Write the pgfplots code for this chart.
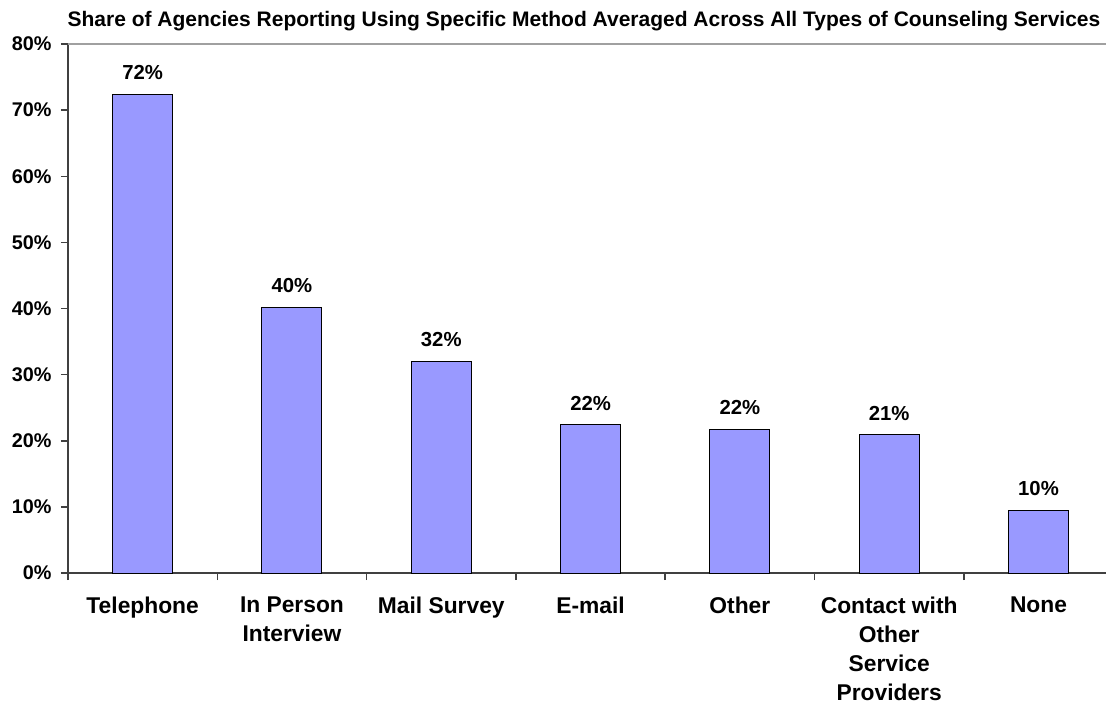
\documentclass[border=0pt]{standalone}
\usepackage{fontspec}
\setmainfont{Liberation Sans}
\usepackage{pgfplots}
\pgfplotsset{compat=1.18}
\definecolor{barfill}{HTML}{9999FF}
\definecolor{axisgray}{HTML}{404040}
\definecolor{topgray}{HTML}{A0A0A0}
\pgfplotstableread{
x y label
0 72.4 72\%
1 40.2 40\%
2 32.0 32\%
3 22.4 22\%
4 21.7 22\%
5 20.9 21\%
6 9.5 10\%
}\datatable
\begin{document}
\begin{tikzpicture}
\useasboundingbox (-68pt,-131pt) rectangle (1038pt,573pt);
\begin{axis}[
  at={(0pt,0pt)}, anchor=south west,
  scale only axis, width=1038pt, height=529pt,
  xmin=-0.5, xmax=6.452, ymin=0, ymax=80,
  axis x line*=bottom, axis y line*=left,
  axis line style={draw=axisgray, line width=2pt},
  ytick={0,10,...,80},
  yticklabels={0\%,10\%,20\%,30\%,40\%,50\%,60\%,70\%,80\%},
  xtick={0,...,6},
  xticklabels={Telephone,{In Person\\Interview},Mail Survey,E-mail,Other,{Contact with\\Other\\Service\\Providers},None},
  major x tick style={draw=none},
  minor xtick={-0.5,0.5,...,5.5},
  minor x tick style={draw=axisgray, line width=1.5pt},
  major y tick style={draw=axisgray, line width=1.5pt},
  major tick length=7pt, minor tick length=7pt,
  tick align=outside,
  xticklabel style={font=\fontsize{22.8}{29}\selectfont\bfseries, align=center, anchor=north, yshift=-13pt},
  yticklabel style={font=\fontsize{19.8}{23}\selectfont\bfseries, anchor=east, xshift=-6pt},
  clip=false,
]
\addplot[ybar, bar width=60pt, fill=barfill, draw=black, line width=1pt,
  nodes near coords, point meta=explicit symbolic,
  every node near coord/.append style={font=\fontsize{20.3}{24}\selectfont\bfseries, anchor=base, yshift=14.7pt, inner sep=0pt}]
  table[x=x, y=y, meta=label] {\datatable};
\draw[topgray, line width=1.5pt] (rel axis cs:0,1) -- (rel axis cs:1,1);
\end{axis}
\node[font=\fontsize{21}{25}\selectfont\bfseries, anchor=base] at (516pt,546pt) {Share of Agencies Reporting Using Specific Method Averaged Across All Types of Counseling Services};
\end{tikzpicture}
\end{document}
